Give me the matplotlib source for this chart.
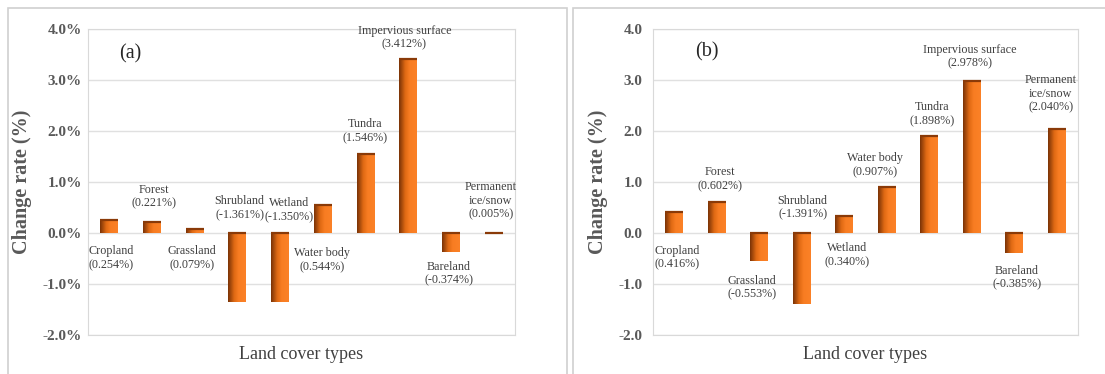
import numpy as np
import matplotlib; matplotlib.use("Agg")
import matplotlib.pyplot as plt
from matplotlib.colors import LinearSegmentedColormap
from matplotlib.patches import Rectangle

plt.rcParams["font.family"] = ["Liberation Serif", "DejaVu Serif"]

cats = ["Cropland", "Forest", "Grassland", "Shrubland", "Wetland", "Water body",
        "Tundra", "Impervious surface", "Bareland", "Permanent\nice/snow"]
vals_a = [0.254, 0.221, 0.079, -1.361, -1.350, 0.544, 1.546, 3.412, -0.374, 0.005]
vals_b = [0.416, 0.602, -0.553, -1.391, 0.340, 0.907, 1.898, 2.978, -0.385, 2.040]
# label centre offsets (category units, data units)
lab_a = [(0.05, -0.49), (0.05, 0.71), (-0.07, -0.49), (0.05, 0.49), (0.22, 0.45),
         (-0.02, -0.53), (0.0, 2.0), (-0.09, 3.83), (-0.05, -0.80), (-0.07, 0.63)]
lab_b = [(0.07, -0.48), (0.08, 1.06), (-0.17, -1.07), (0.02, 0.50), (0.07, -0.43),
         (-0.27, 1.33), (0.06, 2.33), (-0.04, 3.46), (0.06, -0.88), (-0.14, 2.73)]
yticks = [-2, -1, 0, 1, 2, 3, 4]

cmap = LinearSegmentedColormap.from_list("bar", [(0, "#7a3306"), (0.35, "#e06a14"), (0.6, "#f87d22"), (1, "#fb8127")])

fig = plt.figure(figsize=(11.05, 3.74), dpi=100)
# outer panel frames
for x0, w in [(8 / 1105, 559 / 1105), (573 / 1105, 540 / 1105)]:
    fig.patches.append(Rectangle((x0, -0.05), w, 1 - 8 / 374 + 0.05, transform=fig.transFigure,
                                 fill=False, ec="#d0d0d0", lw=1.2))

def panel(rect, vals, labs, tag, tag_xy, pct, ylab_x, tpad):
    ax = fig.add_axes(rect)
    x = np.arange(len(vals))
    bars = ax.bar(x, vals, width=0.42, color="#f47b20", zorder=2)
    grad = np.linspace(0, 1, 64).reshape(1, -1)
    for b in bars:
        bx, by, bw, bh = b.get_x(), b.get_y(), b.get_width(), b.get_height()
        im = ax.imshow(grad, cmap=cmap, aspect="auto", extent=(bx, bx + bw, by, by + bh),
                       zorder=3, interpolation="bilinear")
        im.set_clip_path(b)
        top = by + bh if bh >= 0 else by
        ax.plot([bx, bx + bw], [top, top], color="#8a3a08", lw=1.6, zorder=4, solid_capstyle="butt")
    for i, (c, v) in enumerate(zip(cats, vals)):
        dx, yy = labs[i]
        ax.text(i + dx, yy, f"{c}\n({v:.3f}%)", ha="center", va="center", fontsize=8.7,
                color="#404040", linespacing=1.2, zorder=5)
    ax.text(tag_xy[0], tag_xy[1], tag, fontsize=14.5, color="#262626", ha="center", va="center")
    ax.set_xlim(-0.5, len(vals) - 0.5)
    ax.set_ylim(-2, 4)
    ax.set_yticks(yticks)
    ax.set_yticklabels([f"{t:.1f}%" if pct else f"{t:.1f}" for t in yticks],
                       fontsize=11, fontweight="bold", color="#595959")
    ax.set_xticks([])
    ax.tick_params(axis="y", length=0, pad=tpad)
    ax.grid(axis="y", color="#e0e0e0", lw=1, zorder=0)
    ax.set_axisbelow(True)
    for s in ax.spines.values():
        s.set_color("#d9d9d9")
    ax.set_ylabel("Change rate (%)", fontsize=14.5, fontweight="bold", color="#595959")
    ax.yaxis.set_label_coords(ylab_x, 0.5)
    ax.set_xlabel("Land cover types", fontsize=13, color="#404040", labelpad=8)
    return ax

panel([88 / 1105, 1 - 335 / 374, 427 / 1105, 306 / 374], vals_a, lab_a, "(a)", (0.49, 3.52), True, -0.131, 4.5)
panel([653 / 1105, 1 - 335 / 374, 425 / 1105, 306 / 374], vals_b, lab_b, "(b)", (0.76, 3.55), False, -0.106, 7.5)

fig.savefig("out.png", dpi=100)
